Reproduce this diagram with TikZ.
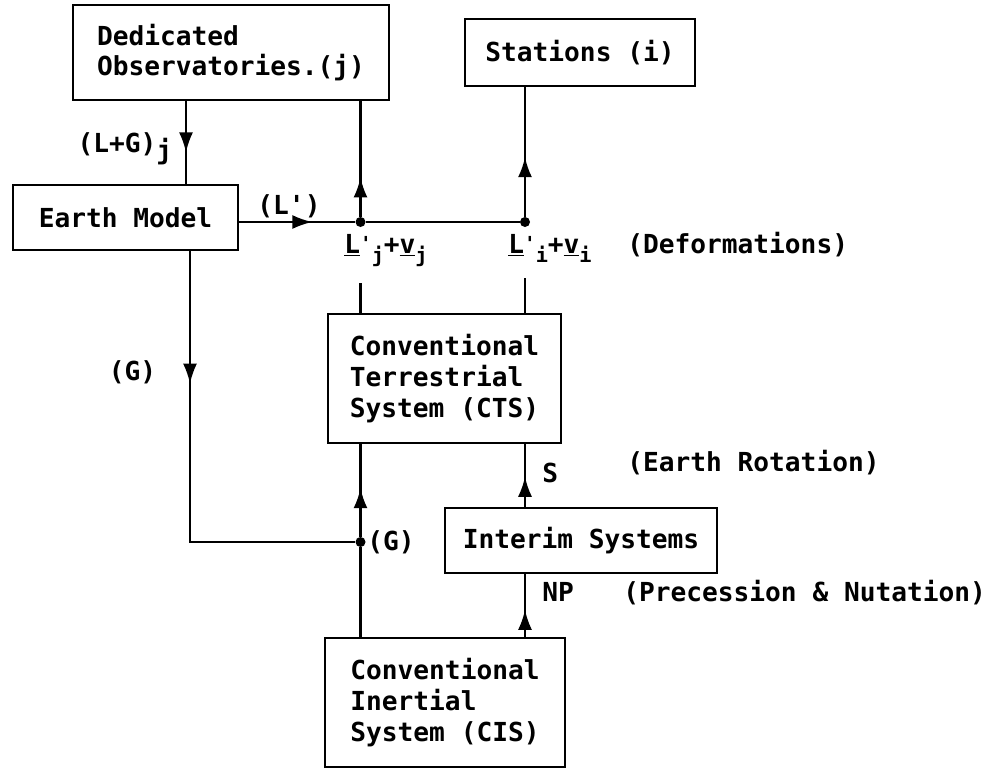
\documentclass[tikz,border=0pt]{standalone}
\usepackage{fontspec}
\setmonofont{DejaVu Sans Mono}
\usetikzlibrary{arrows.meta,decorations.markings}

\newcommand{\subsz}{\fontsize{11.5pt}{11.5pt}\selectfont}
\newcommand{\ulprime}[2]{\underline{#1}\raise0.1em\hbox{\fontsize{11pt}{11pt}\selectfont '}\lower0.35em\hbox{\subsz #2}}
\newcommand{\ulsub}[2]{\underline{#1}\lower0.35em\hbox{\subsz #2}}

\begin{document}
\begin{tikzpicture}[
  font=\ttfamily\bfseries\fontsize{14.9pt}{17.5pt}\selectfont,
  box/.style={draw=black, line width=1.6pt, align=left, inner sep=0pt},
  wire/.style={line width=1.2pt, draw=black},
  midflow/.style={postaction={decorate, decoration={markings,
    mark=at position #1 with {\arrow{Latex[length=4mm,width=2.8mm]}}}}},
  dot/.style={circle, fill=black, inner sep=0pt, minimum size=0.2cm},
  lbl/.style={inner sep=0pt},
  sumlbl/.style={inner xsep=0pt, inner ysep=9pt, anchor=base}
]
\useasboundingbox (0,0) rectangle (20.14,-15.38);

% boxes
\node[box, minimum width=6.32cm, minimum height=1.9cm] (obs) at (4.62,-1.05)
  {Dedicated\\Observatories.(j)};
\node[box, minimum width=4.6cm, minimum height=1.34cm] (stations) at (11.6,-1.05)
  {Stations (i)};
\node[box, minimum width=4.5cm, minimum height=1.3cm] (earth) at (2.51,-4.35)
  {Earth Model};
\node[box, minimum width=4.66cm, minimum height=2.58cm] (cts) at (8.89,-7.57)
  {Conventional\\Terrestrial\\System (CTS)};
\node[box, minimum width=5.44cm, minimum height=1.3cm] (interim) at (11.62,-10.81)
  {Interim Systems};
\node[box, minimum width=4.8cm, minimum height=2.58cm] (cis) at (8.9,-14.05)
  {Conventional\\Inertial\\System (CIS)};

% junctions
\coordinate (lgx) at (3.72,0);
\coordinate (gturn) at (3.8,-10.84);
\node[dot] (dotj) at (7.21,-4.44) {};
\node[dot] (doti) at (10.5,-4.44) {};
\node[dot] (dotg) at (7.21,-10.84) {};

% labels
\node[lbl, anchor=base east] (lglab) at (3.45,-3.04) {(L+G)\lower0.3em\hbox{j}};
\node[lbl, anchor=base] (lprime) at (5.78,-4.28) {(L')};
\node[sumlbl] (lj) at (7.72,-5.06) {\ulprime{L}{j}+\ulsub{v}{j}};
\node[sumlbl] (li) at (11.0,-5.06) {\ulprime{L}{i}+\ulsub{v}{i}};
\node[lbl] (gleft) at (2.65,-7.44) {(G)};
\node[lbl, anchor=west] (gright) at (7.34,-10.84) {(G)};
\node[lbl, anchor=west] (slab) at (10.84,-9.46) {S};
\node[lbl, anchor=west] (nplab) at (10.84,-11.84) {NP};
\node[lbl, anchor=west] (deform) at (12.54,-4.9) {(Deformations)};
\node[lbl, anchor=west] (rotation) at (12.54,-9.26) {(Earth Rotation)};
\node[lbl, anchor=west] (precnut) at (12.46,-11.86) {(Precession \& Nutation)};

% connectors
\draw[wire, midflow=0.62] (obs.south -| lgx) -- (earth.north -| lgx);
\draw[wire, midflow=0.63] (earth.east |- dotj) -- (dotj);
\draw[wire] (dotj) -- (doti);
\draw[wire, midflow=0.34] (dotj) -- (obs.south -| dotj);
\draw[wire, midflow=0.46] (doti) -- (stations.south -| doti);
\draw[wire] (cts.north -| dotj) -- (lj.south -| dotj);
\draw[wire] (cts.north -| doti) -- (li.south -| doti);
\draw[wire, midflow=0.29] (earth.south -| gturn) -- (gturn) -- (dotg);
\draw[wire] (cis.north -| dotg) -- (dotg);
\draw[wire, midflow=0.525] (dotg) -- (cts.south -| dotg);
\draw[wire, midflow=0.43] (cis.north -| doti) -- (interim.south -| doti);
\draw[wire, midflow=0.48] (interim.north -| doti) -- (cts.south -| doti);
\end{tikzpicture}
\end{document}
